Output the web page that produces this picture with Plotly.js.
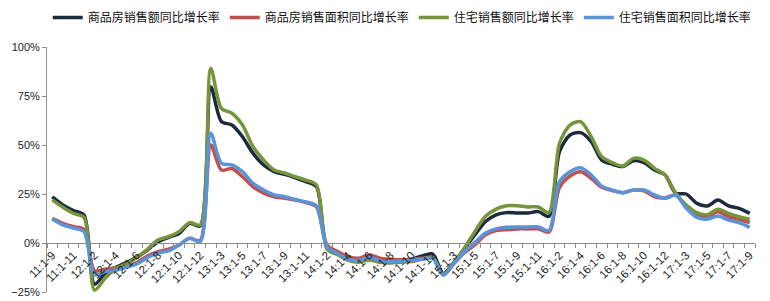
<!DOCTYPE html>
<html>
<head>
<meta charset="utf-8">
<script src="https://cdn.plot.ly/plotly-3.0.1.min.js"></script>
<style>
html,body{margin:0;padding:0;background:#fff;}
#chart{width:770px;height:301px;}
</style>
</head>
<body>
<div id="chart"></div>
<script>
const categories = [
  "11:1-9","11:1-10","11:1-11","11:1-12",
  "12:1-2","12:1-3","12:1-4","12:1-5","12:1-6","12:1-7","12:1-8","12:1-9","12:1-10","12:1-11","12:1-12",
  "13:1-2","13:1-3","13:1-4","13:1-5","13:1-6","13:1-7","13:1-8","13:1-9","13:1-10","13:1-11","13:1-12",
  "14:1-2","14:1-3","14:1-4","14:1-5","14:1-6","14:1-7","14:1-8","14:1-9","14:1-10","14:1-11","14:1-12",
  "15:1-2","15:1-3","15:1-4","15:1-5","15:1-6","15:1-7","15:1-8","15:1-9","15:1-10","15:1-11","15:1-12",
  "16:1-2","16:1-3","16:1-4","16:1-5","16:1-6","16:1-7","16:1-8","16:1-9","16:1-10","16:1-11","16:1-12",
  "17:1-2","17:1-3","17:1-4","17:1-5","17:1-6","17:1-7","17:1-8","17:1-9"
];

// 商品房销售额同比增长率
const salesValue = [
  23.5,19.4,16.5,14.3,
  -21,-15.5,-12.4,-10,-7.3,-3.6,0.7,2.9,4.9,10,8.7,
  79.6,62,60.2,54.2,45.7,39.8,36.4,35,33.3,31.3,28.7,
  -2.5,-5.3,-8.3,-8.9,-7.8,-9,-9.9,-9,-8.3,-6.6,-5.6,
  -15.5,-10,-3,4.2,11,14.4,15.5,15.3,15.3,16,13.6,
  46.6,55.1,56.3,51.7,42.3,40.2,39,42,41,37.2,34.7,
  25.4,25,20.2,18.9,21.9,18.9,17.7,15.1
];
// 商品房销售面积同比增长率
const salesArea = [
  12.6,10,8.3,7,
  -14.2,-13.4,-12.6,-11.7,-10,-6.6,-4.4,-3.2,-1,2.4,1.2,
  50,37.2,38,33.8,28.7,25.4,23.6,22.8,21.9,20.6,18.5,
  -1,-4.4,-7,-7.8,-6,-7.8,-8.3,-8.6,-8.3,-7.8,-7.3,
  -16,-10.5,-5,-0.9,4.2,6.3,6.8,7.2,7.2,7.2,5.6,
  28.4,34.2,36.4,33,28.4,26.7,25.7,27,26.6,23.6,23,
  24.5,18.5,14.3,13.4,16,13.4,12.1,10.4
];
// 住宅销售额同比增长率
const resValue = [
  22,18.2,15.1,13.1,
  -24,-18,-13,-10.7,-7.3,-3.2,1.5,3.2,5.8,10.4,9.2,
  89,68.7,66.2,60.2,49.1,42.3,37.2,35.7,33.8,32.1,29.6,
  -3,-6,-8.8,-9.8,-8.7,-9.8,-10.2,-9.8,-9.5,-8.3,-7.5,
  -16,-10,-2.5,5.9,13.6,17.3,19,19,18.4,18.4,15.6,
  50.9,60.2,61.9,54.2,44,41,39.3,43.2,42.3,38.1,34.7,
  25.4,19.4,15.5,14.4,17.2,15.1,13.4,12.1
];
// 住宅销售面积同比增长率
const resArea = [
  12.2,9.2,7.6,5.8,
  -16.3,-14.6,-14,-12.4,-10.7,-7.5,-5,-4,-1,2.4,0.7,
  56,40.7,39.8,36.4,30.4,27,24.5,23.6,22.2,21,19,
  -2,-5.3,-8.3,-8.9,-7.3,-9,-9.5,-9.2,-8.8,-8.3,-7.8,
  -16.5,-10.5,-4.5,0.3,5.1,7.2,8,8.2,8.2,8.2,6.3,
  31.3,36.4,38.4,34.7,29,27,25.7,27,27,24.5,22.8,
  24.5,17.7,13.1,12.2,13.8,11.7,10.4,8
];

const seriesNames = ["商品房销售额同比增长率","商品房销售面积同比增长率","住宅销售额同比增长率","住宅销售面积同比增长率"];
const seriesData = [salesValue, salesArea, resValue, resArea];
const seriesColors = ["#1b2a3c","#c0504d","#77933c","#5b93d8"];

const xIdx = categories.map((c, i) => i);
const tickIdx = xIdx.filter(i => i % 2 === 0);
const tickText = tickIdx.map(i => categories[i]);

const traces = seriesData.map((ys, k) => ({
  type: 'scatter',
  mode: 'lines',
  name: seriesNames[k],
  x: xIdx,
  y: ys,
  text: categories,
  line: {color: seriesColors[k], width: 3.5, shape: 'spline', smoothing: 0.8},
  hoverinfo: 'skip'
}));

const axisColor = '#8c8c8c';
const layout = {
  width: 770, height: 301,
  margin: {l: 47, r: 15, t: 47, b: 9},
  paper_bgcolor: '#ffffff',
  plot_bgcolor: '#ffffff',
  showlegend: true,
  legend: {
    orientation: 'h',
    xref: 'container', yref: 'container',
    x: 0.062, y: 0.99, xanchor: 'left', yanchor: 'top',
    font: {family: 'Noto Sans CJK SC, sans-serif', size: 12, color: '#111'},
    itemwidth: 30,
    tracegroupgap: 0,
    bgcolor: 'rgba(0,0,0,0)'
  },
  xaxis: {
    type: 'linear',
    range: [-0.5, categories.length - 0.5],
    anchor: 'free', position: 0.2,
    showline: true, linecolor: axisColor, linewidth: 1,
    tickmode: 'array', tickvals: tickIdx, ticktext: tickText,
    ticks: '', tickangle: -45,
    tickfont: {family: 'Liberation Sans, Arial, sans-serif', size: 11.5, color: '#222'},
    minor: {tickmode: 'linear', tick0: -0.5, dtick: 1, ticks: 'outside', ticklen: 4, tickcolor: axisColor, showgrid: false},
    showgrid: false, zeroline: false, automargin: false, fixedrange: true
  },
  yaxis: {
    range: [-25, 100],
    tickmode: 'linear', tick0: -25, dtick: 25, ticksuffix: '%',
    showline: true, linecolor: axisColor, linewidth: 1,
    ticks: 'outside', ticklen: 4, tickcolor: axisColor,
    tickfont: {family: 'Liberation Sans, Arial, sans-serif', size: 11, color: '#222'},
    showgrid: false, zeroline: false, automargin: false, fixedrange: true
  }
};

Plotly.newPlot('chart', traces, layout, {displayModeBar: false, staticPlot: true});
</script>
</body>
</html>
